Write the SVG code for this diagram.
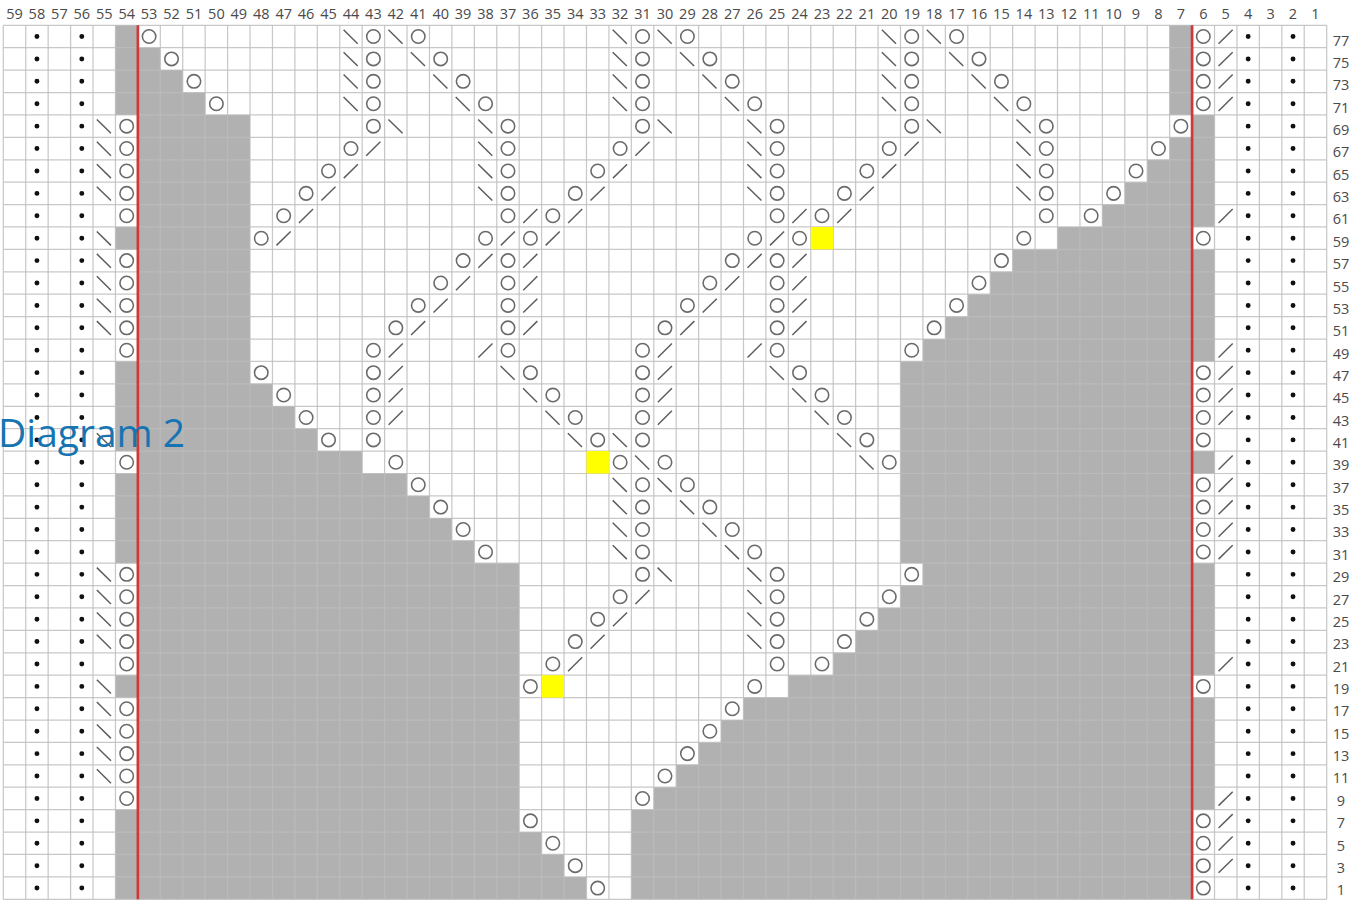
<svg xmlns="http://www.w3.org/2000/svg" width="1351" height="902" viewBox="0 0 1351 902">
<style>
.lab{font-family:"Open Sans","Noto Sans","Liberation Sans",sans-serif;font-size:14.5px;fill:#4a4a4a;text-anchor:middle}
.ttl{font-family:"Open Sans","Noto Sans","Liberation Sans",sans-serif;font-size:39px;fill:#1574b1}
</style>
<defs>
<circle id="o" cx="0.5" cy="0.5" r="0.3" fill="none" stroke="#6a6a6a" stroke-width="0.07"/>
<path id="b" d="M0.17 0.2L0.8 0.82" stroke="#5c5c5c" stroke-width="0.065" fill="none"/>
<path id="f" d="M0.18 0.82L0.81 0.2" stroke="#5c5c5c" stroke-width="0.065" fill="none"/>
</defs>
<rect width="1351" height="902" fill="#fff"/>
<g id="chart" transform="translate(3.3 25.3) scale(22.43 22.41)">
<g id="shade" fill="#b1b1b1">
<path d="M6 1H7V2H8V3H9V4H11V16H12V17H13V18H14V19H16V20H18V21H19V22H20V23H21V24H23V36H24V37H25V38H26V39H6Z"/>
<path d="M52 5H53V39H28V35H29V34H30V33H31V32H32V31H33V30H35V29H37V28H38V27H39V26H40V25H41V24H40V15H41V14H42V13H43V12H44V11H45V10H47V9H49V8H50V7H51V6H52Z"/>
<path d="M52 0h1v4h-1zM5 0h1v4h-1zM5 9h1v1h-1zM5 15h1v4h-1zM5 20h1v4h-1zM5 29h1v1h-1zM5 35h1v4h-1zM53 4h1v5h-1zM53 10h1v5h-1zM53 19h1v1h-1zM53 24h1v5h-1zM53 30h1v5h-1z"/>
</g>
<g id="grid" fill="none" stroke="#bcbcbc" stroke-opacity="0.82" stroke-width="0.055">
<path d="M0 0V39M1 0V39M2 0V39M3 0V39M4 0V39M5 0V39M6 0V39M7 0V39M8 0V39M9 0V39M10 0V39M11 0V39M12 0V39M13 0V39M14 0V39M15 0V39M16 0V39M17 0V39M18 0V39M19 0V39M20 0V39M21 0V39M22 0V39M23 0V39M24 0V39M25 0V39M26 0V39M27 0V39M28 0V39M29 0V39M30 0V39M31 0V39M32 0V39M33 0V39M34 0V39M35 0V39M36 0V39M37 0V39M38 0V39M39 0V39M40 0V39M41 0V39M42 0V39M43 0V39M44 0V39M45 0V39M46 0V39M47 0V39M48 0V39M49 0V39M50 0V39M51 0V39M52 0V39M53 0V39M54 0V39M55 0V39M56 0V39M57 0V39M58 0V39M59 0V39"/>
<path d="M0 0H59M0 1H59M0 2H59M0 3H59M0 4H59M0 5H59M0 6H59M0 7H59M0 8H59M0 9H59M0 10H59M0 11H59M0 12H59M0 13H59M0 14H59M0 15H59M0 16H59M0 17H59M0 18H59M0 19H59M0 20H59M0 21H59M0 22H59M0 23H59M0 24H59M0 25H59M0 26H59M0 27H59M0 28H59M0 29H59M0 30H59M0 31H59M0 32H59M0 33H59M0 34H59M0 35H59M0 36H59M0 37H59M0 38H59M0 39H59"/>
</g>
<g id="yellow" fill="#ffff00">
<rect x="36" y="9" width="1" height="1"/>
<rect x="26" y="19" width="1" height="1"/>
<rect x="24" y="29" width="1" height="1"/>
</g>
<path id="red-lines" d="M6 0V39M53 0V39" stroke="#d2383a" stroke-width="0.12" fill="none"/>
<path id="dots" d="M1.5 0.5V38.7M3.5 0.5V38.7M55.5 0.5V38.7M57.5 0.5V38.7" stroke="#111" stroke-width="0.22" stroke-linecap="round" stroke-dasharray="0 1" fill="none"/>
<g id="yarn-overs">
<use href="#o" x="5" y="4"/><use href="#o" x="5" y="5"/><use href="#o" x="5" y="6"/><use href="#o" x="5" y="7"/><use href="#o" x="5" y="8"/>
<use href="#o" x="5" y="10"/><use href="#o" x="5" y="11"/><use href="#o" x="5" y="12"/><use href="#o" x="5" y="13"/><use href="#o" x="5" y="14"/>
<use href="#o" x="5" y="19"/>
<use href="#o" x="5" y="24"/><use href="#o" x="5" y="25"/><use href="#o" x="5" y="26"/><use href="#o" x="5" y="27"/><use href="#o" x="5" y="28"/>
<use href="#o" x="5" y="30"/><use href="#o" x="5" y="31"/><use href="#o" x="5" y="32"/><use href="#o" x="5" y="33"/><use href="#o" x="5" y="34"/>
<use href="#o" x="53" y="0"/><use href="#o" x="53" y="1"/><use href="#o" x="53" y="2"/><use href="#o" x="53" y="3"/>
<use href="#o" x="53" y="9"/>
<use href="#o" x="53" y="15"/><use href="#o" x="53" y="16"/><use href="#o" x="53" y="17"/><use href="#o" x="53" y="18"/>
<use href="#o" x="53" y="20"/><use href="#o" x="53" y="21"/><use href="#o" x="53" y="22"/><use href="#o" x="53" y="23"/>
<use href="#o" x="53" y="29"/>
<use href="#o" x="53" y="35"/><use href="#o" x="53" y="36"/><use href="#o" x="53" y="37"/><use href="#o" x="53" y="38"/>
<use href="#o" x="6" y="0"/><use href="#o" x="16" y="0"/><use href="#o" x="18" y="0"/><use href="#o" x="28" y="0"/><use href="#o" x="30" y="0"/><use href="#o" x="40" y="0"/><use href="#o" x="42" y="0"/>
<use href="#o" x="7" y="1"/><use href="#o" x="16" y="1"/><use href="#o" x="19" y="1"/><use href="#o" x="28" y="1"/><use href="#o" x="31" y="1"/><use href="#o" x="40" y="1"/><use href="#o" x="43" y="1"/>
<use href="#o" x="8" y="2"/><use href="#o" x="16" y="2"/><use href="#o" x="20" y="2"/><use href="#o" x="28" y="2"/><use href="#o" x="32" y="2"/><use href="#o" x="40" y="2"/><use href="#o" x="44" y="2"/>
<use href="#o" x="9" y="3"/><use href="#o" x="16" y="3"/><use href="#o" x="21" y="3"/><use href="#o" x="28" y="3"/><use href="#o" x="33" y="3"/><use href="#o" x="40" y="3"/><use href="#o" x="45" y="3"/>
<use href="#o" x="16" y="4"/><use href="#o" x="22" y="4"/><use href="#o" x="28" y="4"/><use href="#o" x="34" y="4"/><use href="#o" x="40" y="4"/><use href="#o" x="46" y="4"/><use href="#o" x="52" y="4"/>
<use href="#o" x="15" y="5"/><use href="#o" x="22" y="5"/><use href="#o" x="27" y="5"/><use href="#o" x="34" y="5"/><use href="#o" x="39" y="5"/><use href="#o" x="46" y="5"/><use href="#o" x="51" y="5"/>
<use href="#o" x="14" y="6"/><use href="#o" x="22" y="6"/><use href="#o" x="26" y="6"/><use href="#o" x="34" y="6"/><use href="#o" x="38" y="6"/><use href="#o" x="46" y="6"/><use href="#o" x="50" y="6"/>
<use href="#o" x="13" y="7"/><use href="#o" x="22" y="7"/><use href="#o" x="25" y="7"/><use href="#o" x="34" y="7"/><use href="#o" x="37" y="7"/><use href="#o" x="46" y="7"/><use href="#o" x="49" y="7"/>
<use href="#o" x="12" y="8"/><use href="#o" x="22" y="8"/><use href="#o" x="24" y="8"/><use href="#o" x="34" y="8"/><use href="#o" x="36" y="8"/><use href="#o" x="46" y="8"/><use href="#o" x="48" y="8"/>
<use href="#o" x="11" y="9"/><use href="#o" x="21" y="9"/><use href="#o" x="23" y="9"/><use href="#o" x="33" y="9"/><use href="#o" x="35" y="9"/><use href="#o" x="45" y="9"/>
<use href="#o" x="20" y="10"/><use href="#o" x="22" y="10"/><use href="#o" x="32" y="10"/><use href="#o" x="34" y="10"/><use href="#o" x="44" y="10"/>
<use href="#o" x="19" y="11"/><use href="#o" x="22" y="11"/><use href="#o" x="31" y="11"/><use href="#o" x="34" y="11"/><use href="#o" x="43" y="11"/>
<use href="#o" x="18" y="12"/><use href="#o" x="22" y="12"/><use href="#o" x="30" y="12"/><use href="#o" x="34" y="12"/><use href="#o" x="42" y="12"/>
<use href="#o" x="17" y="13"/><use href="#o" x="22" y="13"/><use href="#o" x="29" y="13"/><use href="#o" x="34" y="13"/><use href="#o" x="41" y="13"/>
<use href="#o" x="16" y="14"/><use href="#o" x="22" y="14"/><use href="#o" x="28" y="14"/><use href="#o" x="34" y="14"/><use href="#o" x="40" y="14"/>
<use href="#o" x="11" y="15"/><use href="#o" x="16" y="15"/><use href="#o" x="23" y="15"/><use href="#o" x="28" y="15"/><use href="#o" x="35" y="15"/>
<use href="#o" x="12" y="16"/><use href="#o" x="16" y="16"/><use href="#o" x="24" y="16"/><use href="#o" x="28" y="16"/><use href="#o" x="36" y="16"/>
<use href="#o" x="13" y="17"/><use href="#o" x="16" y="17"/><use href="#o" x="25" y="17"/><use href="#o" x="28" y="17"/><use href="#o" x="37" y="17"/>
<use href="#o" x="14" y="18"/><use href="#o" x="16" y="18"/><use href="#o" x="26" y="18"/><use href="#o" x="28" y="18"/><use href="#o" x="38" y="18"/>
<use href="#o" x="17" y="19"/><use href="#o" x="27" y="19"/><use href="#o" x="29" y="19"/><use href="#o" x="39" y="19"/>
<use href="#o" x="18" y="20"/><use href="#o" x="28" y="20"/><use href="#o" x="30" y="20"/>
<use href="#o" x="19" y="21"/><use href="#o" x="28" y="21"/><use href="#o" x="31" y="21"/>
<use href="#o" x="20" y="22"/><use href="#o" x="28" y="22"/><use href="#o" x="32" y="22"/>
<use href="#o" x="21" y="23"/><use href="#o" x="28" y="23"/><use href="#o" x="33" y="23"/>
<use href="#o" x="28" y="24"/><use href="#o" x="34" y="24"/><use href="#o" x="40" y="24"/>
<use href="#o" x="27" y="25"/><use href="#o" x="34" y="25"/><use href="#o" x="39" y="25"/>
<use href="#o" x="26" y="26"/><use href="#o" x="34" y="26"/><use href="#o" x="38" y="26"/>
<use href="#o" x="25" y="27"/><use href="#o" x="34" y="27"/><use href="#o" x="37" y="27"/>
<use href="#o" x="24" y="28"/><use href="#o" x="34" y="28"/><use href="#o" x="36" y="28"/>
<use href="#o" x="23" y="29"/><use href="#o" x="33" y="29"/>
<use href="#o" x="32" y="30"/><use href="#o" x="31" y="31"/><use href="#o" x="30" y="32"/><use href="#o" x="29" y="33"/><use href="#o" x="28" y="34"/>
<use href="#o" x="23" y="35"/><use href="#o" x="24" y="36"/><use href="#o" x="25" y="37"/><use href="#o" x="26" y="38"/>
</g>
<g id="left-decreases">
<use href="#b" x="4" y="4"/><use href="#b" x="4" y="5"/><use href="#b" x="4" y="6"/><use href="#b" x="4" y="7"/><use href="#b" x="4" y="9"/>
<use href="#b" x="4" y="10"/><use href="#b" x="4" y="11"/><use href="#b" x="4" y="12"/><use href="#b" x="4" y="13"/><use href="#b" x="4" y="18"/>
<use href="#b" x="4" y="24"/><use href="#b" x="4" y="25"/><use href="#b" x="4" y="26"/><use href="#b" x="4" y="27"/><use href="#b" x="4" y="29"/>
<use href="#b" x="4" y="30"/><use href="#b" x="4" y="31"/><use href="#b" x="4" y="32"/><use href="#b" x="4" y="33"/>
<use href="#b" x="15" y="0"/><use href="#b" x="17" y="0"/><use href="#b" x="27" y="0"/><use href="#b" x="29" y="0"/><use href="#b" x="39" y="0"/><use href="#b" x="41" y="0"/>
<use href="#b" x="15" y="1"/><use href="#b" x="18" y="1"/><use href="#b" x="27" y="1"/><use href="#b" x="30" y="1"/><use href="#b" x="39" y="1"/><use href="#b" x="42" y="1"/>
<use href="#b" x="15" y="2"/><use href="#b" x="19" y="2"/><use href="#b" x="27" y="2"/><use href="#b" x="31" y="2"/><use href="#b" x="39" y="2"/><use href="#b" x="43" y="2"/>
<use href="#b" x="15" y="3"/><use href="#b" x="20" y="3"/><use href="#b" x="27" y="3"/><use href="#b" x="32" y="3"/><use href="#b" x="39" y="3"/><use href="#b" x="44" y="3"/>
<use href="#b" x="17" y="4"/><use href="#b" x="21" y="4"/><use href="#b" x="29" y="4"/><use href="#b" x="33" y="4"/><use href="#b" x="41" y="4"/><use href="#b" x="45" y="4"/>
<use href="#b" x="21" y="5"/><use href="#b" x="33" y="5"/><use href="#b" x="45" y="5"/>
<use href="#b" x="21" y="6"/><use href="#b" x="33" y="6"/><use href="#b" x="45" y="6"/>
<use href="#b" x="21" y="7"/><use href="#b" x="33" y="7"/><use href="#b" x="45" y="7"/>
<use href="#b" x="22" y="15"/><use href="#b" x="34" y="15"/>
<use href="#b" x="23" y="16"/><use href="#b" x="35" y="16"/>
<use href="#b" x="24" y="17"/><use href="#b" x="36" y="17"/>
<use href="#b" x="25" y="18"/><use href="#b" x="27" y="18"/><use href="#b" x="37" y="18"/>
<use href="#b" x="28" y="19"/><use href="#b" x="38" y="19"/>
<use href="#b" x="27" y="20"/><use href="#b" x="29" y="20"/>
<use href="#b" x="27" y="21"/><use href="#b" x="30" y="21"/>
<use href="#b" x="27" y="22"/><use href="#b" x="31" y="22"/>
<use href="#b" x="27" y="23"/><use href="#b" x="32" y="23"/>
<use href="#b" x="29" y="24"/><use href="#b" x="33" y="24"/>
<use href="#b" x="33" y="25"/><use href="#b" x="33" y="26"/><use href="#b" x="33" y="27"/>
</g>
<g id="right-decreases">
<use href="#f" x="54" y="0"/><use href="#f" x="54" y="1"/><use href="#f" x="54" y="2"/><use href="#f" x="54" y="3"/><use href="#f" x="54" y="8"/>
<use href="#f" x="54" y="14"/><use href="#f" x="54" y="15"/><use href="#f" x="54" y="16"/><use href="#f" x="54" y="17"/><use href="#f" x="54" y="19"/>
<use href="#f" x="54" y="20"/><use href="#f" x="54" y="21"/><use href="#f" x="54" y="22"/><use href="#f" x="54" y="23"/><use href="#f" x="54" y="28"/>
<use href="#f" x="54" y="34"/><use href="#f" x="54" y="35"/><use href="#f" x="54" y="36"/><use href="#f" x="54" y="37"/>
<use href="#f" x="16" y="5"/><use href="#f" x="28" y="5"/><use href="#f" x="40" y="5"/>
<use href="#f" x="15" y="6"/><use href="#f" x="27" y="6"/><use href="#f" x="39" y="6"/>
<use href="#f" x="14" y="7"/><use href="#f" x="26" y="7"/><use href="#f" x="38" y="7"/>
<use href="#f" x="13" y="8"/><use href="#f" x="23" y="8"/><use href="#f" x="25" y="8"/><use href="#f" x="35" y="8"/><use href="#f" x="37" y="8"/>
<use href="#f" x="12" y="9"/><use href="#f" x="22" y="9"/><use href="#f" x="24" y="9"/><use href="#f" x="34" y="9"/>
<use href="#f" x="21" y="10"/><use href="#f" x="23" y="10"/><use href="#f" x="33" y="10"/><use href="#f" x="35" y="10"/>
<use href="#f" x="20" y="11"/><use href="#f" x="23" y="11"/><use href="#f" x="32" y="11"/><use href="#f" x="35" y="11"/>
<use href="#f" x="19" y="12"/><use href="#f" x="23" y="12"/><use href="#f" x="31" y="12"/><use href="#f" x="35" y="12"/>
<use href="#f" x="18" y="13"/><use href="#f" x="23" y="13"/><use href="#f" x="30" y="13"/><use href="#f" x="35" y="13"/>
<use href="#f" x="17" y="14"/><use href="#f" x="21" y="14"/><use href="#f" x="29" y="14"/><use href="#f" x="33" y="14"/>
<use href="#f" x="17" y="15"/><use href="#f" x="29" y="15"/>
<use href="#f" x="17" y="16"/><use href="#f" x="29" y="16"/>
<use href="#f" x="17" y="17"/><use href="#f" x="29" y="17"/>
<use href="#f" x="28" y="25"/><use href="#f" x="27" y="26"/><use href="#f" x="26" y="27"/><use href="#f" x="25" y="28"/>
</g>
</g>
<g id="column-labels" class="lab">
<text x="14.5" y="18.5">59</text><text x="36.9" y="18.5">58</text><text x="59.4" y="18.5">57</text><text x="81.8" y="18.5">56</text><text x="104.2" y="18.5">55</text><text x="126.7" y="18.5">54</text><text x="149.1" y="18.5">53</text><text x="171.5" y="18.5">52</text><text x="194" y="18.5">51</text><text x="216.4" y="18.5">50</text>
<text x="238.8" y="18.5">49</text><text x="261.2" y="18.5">48</text><text x="283.7" y="18.5">47</text><text x="306.1" y="18.5">46</text><text x="328.5" y="18.5">45</text><text x="351" y="18.5">44</text><text x="373.4" y="18.5">43</text><text x="395.8" y="18.5">42</text><text x="418.3" y="18.5">41</text><text x="440.7" y="18.5">40</text>
<text x="463.1" y="18.5">39</text><text x="485.5" y="18.5">38</text><text x="508" y="18.5">37</text><text x="530.4" y="18.5">36</text><text x="552.8" y="18.5">35</text><text x="575.3" y="18.5">34</text><text x="597.7" y="18.5">33</text><text x="620.1" y="18.5">32</text><text x="642.6" y="18.5">31</text><text x="665" y="18.5">30</text>
<text x="687.4" y="18.5">29</text><text x="709.8" y="18.5">28</text><text x="732.3" y="18.5">27</text><text x="754.7" y="18.5">26</text><text x="777.1" y="18.5">25</text><text x="799.6" y="18.5">24</text><text x="822" y="18.5">23</text><text x="844.4" y="18.5">22</text><text x="866.9" y="18.5">21</text><text x="889.3" y="18.5">20</text>
<text x="911.7" y="18.5">19</text><text x="934.1" y="18.5">18</text><text x="956.6" y="18.5">17</text><text x="979" y="18.5">16</text><text x="1001.4" y="18.5">15</text><text x="1023.9" y="18.5">14</text><text x="1046.3" y="18.5">13</text><text x="1068.7" y="18.5">12</text><text x="1091.2" y="18.5">11</text><text x="1113.6" y="18.5">10</text>
<text x="1136" y="18.5">9</text><text x="1158.4" y="18.5">8</text><text x="1180.9" y="18.5">7</text><text x="1203.3" y="18.5">6</text><text x="1225.7" y="18.5">5</text><text x="1248.2" y="18.5">4</text><text x="1270.6" y="18.5">3</text><text x="1293" y="18.5">2</text><text x="1315.5" y="18.5">1</text>
</g>
<g id="row-labels" class="lab">
<text x="1341" y="45.5">77</text><text x="1341" y="67.9">75</text><text x="1341" y="90.2">73</text><text x="1341" y="112.6">71</text><text x="1341" y="134.9">69</text><text x="1341" y="157.3">67</text><text x="1341" y="179.7">65</text><text x="1341" y="202">63</text><text x="1341" y="224.4">61</text><text x="1341" y="246.7">59</text>
<text x="1341" y="269.1">57</text><text x="1341" y="291.5">55</text><text x="1341" y="313.8">53</text><text x="1341" y="336.2">51</text><text x="1341" y="358.5">49</text><text x="1341" y="380.9">47</text><text x="1341" y="403.3">45</text><text x="1341" y="425.6">43</text><text x="1341" y="448">41</text><text x="1341" y="470.3">39</text>
<text x="1341" y="492.7">37</text><text x="1341" y="515.1">35</text><text x="1341" y="537.4">33</text><text x="1341" y="559.8">31</text><text x="1341" y="582.1">29</text><text x="1341" y="604.5">27</text><text x="1341" y="626.9">25</text><text x="1341" y="649.2">23</text><text x="1341" y="671.6">21</text><text x="1341" y="693.9">19</text>
<text x="1341" y="716.3">17</text><text x="1341" y="738.7">15</text><text x="1341" y="761">13</text><text x="1341" y="783.4">11</text><text x="1341" y="805.7">9</text><text x="1341" y="828.1">7</text><text x="1341" y="850.5">5</text><text x="1341" y="872.8">3</text><text x="1341" y="895.2">1</text>
</g>
<text id="title" class="ttl" x="-2" y="447">Diagram 2</text>
</svg>
